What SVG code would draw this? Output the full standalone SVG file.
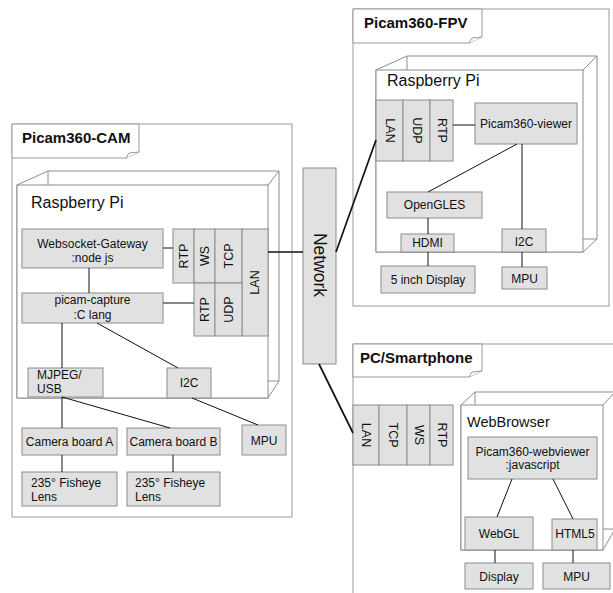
<svg xmlns="http://www.w3.org/2000/svg" width="613" height="593" viewBox="0 0 613 593">
<style>
.panel{fill:#fff;stroke:#9a9a9a;stroke-width:1}
.tab{fill:#fff;stroke:#9a9a9a;stroke-width:1}
.node3d{fill:#fff;stroke:#8c8c8c;stroke-width:1}
.box{fill:#e1e1e1;stroke:#8c8c8c;stroke-width:1}
.t{font-family:"Liberation Sans",Arial,sans-serif;font-size:12px;fill:#111}
.c{text-anchor:middle}
.v{text-anchor:middle;dominant-baseline:central;font-size:12.5px}
.title{font-family:"Liberation Sans",Arial,sans-serif;font-size:15px;font-weight:bold;fill:#111}
.big{font-family:"Liberation Sans",Arial,sans-serif;font-size:16px;fill:#111}
.conn line{stroke:#111;stroke-width:1;fill:none}
.conn line.net{stroke-width:1.7}
</style>
<rect width="613" height="593" fill="#fff"/>

<!-- Picam360-CAM -->
<g id="cam">
  <rect class="panel" x="12" y="124" width="280" height="393"/>
  <path class="tab" d="M12,124 H139 V152 L126,158 H12 Z"/>
  <path class="tab" d="M126,158 L129,153 L139,152" fill="none"/>
  <text class="title" x="22" y="143">Picam360-CAM</text>
</g>
<g id="cam-rpi">
  <path class="node3d" d="M17,185 L48,171 H279 V381 L268,398 H17 Z"/>
  <path fill="none" stroke="#8c8c8c" d="M48,171 V185 M268,185 L279,171 M268,381 H279"/>
  <rect class="node3d" x="17" y="185" width="251" height="213"/>
  <text class="big" x="31" y="208">Raspberry Pi</text>
</g>
<g id="cam-wsgw"><rect class="box" x="22" y="229" width="141" height="39"/>
  <text class="t c" x="92.5" y="248">Websocket-Gateway</text><text class="t c" x="92.5" y="262">:node js</text></g>
<g id="cam-rtp1"><rect class="box" x="173" y="229" width="21" height="54"/><text class="t v" transform="translate(184,256) rotate(-90)">RTP</text></g>
<g id="cam-ws"><rect class="box" x="194" y="229" width="21" height="54"/><text class="t v" transform="translate(205,256) rotate(-90)">WS</text></g>
<g id="cam-tcp"><rect class="box" x="215" y="229" width="27" height="54"/><text class="t v" transform="translate(229,256) rotate(-90)">TCP</text></g>
<g id="cam-lan"><rect class="box" x="242" y="229" width="26" height="107"/><text class="t v" transform="translate(255,282.5) rotate(-90)">LAN</text></g>
<g id="cam-rtp2"><rect class="box" x="194" y="283" width="21" height="53"/><text class="t v" transform="translate(205,309.5) rotate(-90)">RTP</text></g>
<g id="cam-udp"><rect class="box" x="215" y="283" width="27" height="53"/><text class="t v" transform="translate(229,309.5) rotate(-90)">UDP</text></g>
<g id="cam-capture"><rect class="box" x="22" y="293" width="141" height="30"/>
  <text class="t c" x="92.5" y="304">picam-capture</text><text class="t c" x="92.5" y="318.5">:C lang</text></g>
<g id="cam-mjpeg"><rect class="box" x="28" y="368" width="75" height="29"/>
  <text class="t" x="37" y="379">MJPEG/</text><text class="t" x="37" y="393">USB</text></g>
<g id="cam-i2c"><rect class="box" x="167" y="368" width="44" height="30"/><text class="t c" x="189" y="387">I2C</text></g>
<g id="cam-cama"><rect class="box" x="22" y="428" width="95" height="27"/><text class="t c" x="69.5" y="446">Camera board A</text></g>
<g id="cam-camb"><rect class="box" x="127" y="428" width="93" height="27"/><text class="t c" x="173.5" y="446">Camera board B</text></g>
<g id="cam-mpu"><rect class="box" x="242" y="425" width="44" height="30"/><text class="t c" x="264" y="445">MPU</text></g>
<g id="cam-lensa"><rect class="box" x="22" y="472" width="95" height="34"/>
  <text class="t" x="31" y="487">235° Fisheye</text><text class="t" x="31" y="501">Lens</text></g>
<g id="cam-lensb"><rect class="box" x="127" y="472" width="93" height="34"/>
  <text class="t" x="135" y="487">235° Fisheye</text><text class="t" x="135" y="501">Lens</text></g>

<!-- Network -->
<g id="network"><rect class="box" x="303" y="168" width="33" height="196"/>
  <text class="t v" style="font-size:17.5px" transform="translate(319.5,265) rotate(90)">Network</text></g>

<!-- Picam360-FPV -->
<g id="fpv">
  <rect class="panel" x="353" y="9" width="256" height="297"/>
  <path class="tab" d="M353,9 H482 V37 L469,43 H353 Z"/>
  <path class="tab" d="M469,43 L472,38 L482,37" fill="none"/>
  <text class="title" x="364" y="28">Picam360-FPV</text>
</g>
<g id="fpv-rpi">
  <path class="node3d" d="M376,70 L407,56 H597 V239 L583,252 H376 Z"/>
  <path fill="none" stroke="#8c8c8c" d="M407,56 V70 M583,70 L597,56 M583,239 H597"/>
  <rect class="node3d" x="376" y="70" width="207" height="182"/>
  <text class="big" x="387" y="86">Raspberry Pi</text>
</g>
<g id="fpv-lan"><rect class="box" x="376" y="100" width="27" height="61"/><text class="t v" transform="translate(389.5,130.5) rotate(90)">LAN</text></g>
<g id="fpv-udp"><rect class="box" x="403" y="100" width="27" height="61"/><text class="t v" transform="translate(416.5,130.5) rotate(90)">UDP</text></g>
<g id="fpv-rtp"><rect class="box" x="430" y="100" width="23" height="61"/><text class="t v" transform="translate(441.5,130.5) rotate(90)">RTP</text></g>
<g id="fpv-viewer"><rect class="box" x="475" y="103" width="102" height="41"/><text class="t c" x="526" y="128">Picam360-viewer</text></g>
<g id="fpv-opengles"><rect class="box" x="387" y="192" width="95" height="26"/><text class="t c" x="434.5" y="209">OpenGLES</text></g>
<g id="fpv-hdmi"><rect class="box" x="401" y="234" width="53" height="18"/><text class="t c" x="427.5" y="247">HDMI</text></g>
<g id="fpv-i2c"><rect class="box" x="502" y="229" width="44" height="23"/><text class="t c" x="524" y="246">I2C</text></g>
<g id="fpv-display"><rect class="box" x="381" y="266" width="94" height="27"/><text class="t c" x="428" y="284">5 inch Display</text></g>
<g id="fpv-mpu"><rect class="box" x="502" y="267" width="45" height="22"/><text class="t c" x="524.5" y="282.5">MPU</text></g>

<!-- PC/Smartphone -->
<g id="pc">
  <rect class="panel" x="353" y="344" width="270" height="260"/>
  <path class="tab" d="M353,344 H482 V371 L469,377 H353 Z"/>
  <path class="tab" d="M469,377 L472,372 L482,371" fill="none"/>
  <text class="title" x="360" y="363">PC/Smartphone</text>
</g>
<g id="pc-lan"><rect class="box" x="353" y="405" width="26" height="60"/><text class="t v" transform="translate(366,435) rotate(90)">LAN</text></g>
<g id="pc-tcp"><rect class="box" x="379" y="405" width="28" height="60"/><text class="t v" transform="translate(393,435) rotate(90)">TCP</text></g>
<g id="pc-ws"><rect class="box" x="407" y="405" width="23" height="60"/><text class="t v" transform="translate(418.5,435) rotate(90)">WS</text></g>
<g id="pc-rtp"><rect class="box" x="430" y="405" width="23" height="60"/><text class="t v" transform="translate(441.5,435) rotate(90)">RTP</text></g>
<g id="pc-browser">
  <path class="node3d" d="M461,405 L475,392 H615 V529 L603,550 H461 Z"/>
  <path fill="none" stroke="#8c8c8c" d="M475,392 V405 M603,405 L615,392 M603,529 H615"/>
  <rect class="node3d" x="461" y="405" width="142" height="145"/>
  <text class="big" style="font-size:14.5px" x="467" y="427">WebBrowser</text>
</g>
<g id="pc-webviewer"><rect class="box" x="468" y="437" width="129" height="42"/>
  <text class="t c" x="532.5" y="456">Picam360-webviewer</text><text class="t c" x="532.5" y="469">:javascript</text></g>
<g id="pc-webgl"><rect class="box" x="465" y="517" width="68" height="33"/><text class="t c" x="499" y="538">WebGL</text></g>
<g id="pc-html5"><rect class="box" x="552" y="519" width="45" height="31"/><text class="t c" x="575" y="538">HTML5</text></g>
<g id="pc-display"><rect class="box" x="465" y="563" width="68" height="26"/><text class="t c" x="499" y="581">Display</text></g>
<g id="pc-mpu"><rect class="box" x="543" y="563" width="67" height="26"/><text class="t c" x="576.5" y="581">MPU</text></g>

<g id="connectors" class="conn">
  <line x1="163" y1="248" x2="173" y2="248"/>
  <line x1="89" y1="268" x2="89" y2="293"/>
  <line x1="163" y1="303" x2="194" y2="303"/>
  <line x1="97" y1="323" x2="178" y2="368"/>
  <line x1="62" y1="323" x2="62" y2="368"/>
  <line x1="62" y1="397" x2="62" y2="428"/>
  <line x1="62" y1="397" x2="170" y2="428"/>
  <line x1="192" y1="398" x2="258" y2="425"/>
  <line x1="62" y1="455" x2="62" y2="472"/>
  <line x1="173" y1="455" x2="173" y2="472"/>
  <line class="net" x1="268" y1="252" x2="303" y2="252"/>
  <line class="net" x1="336" y1="252" x2="376" y2="140"/>
  <line x1="453" y1="125" x2="475" y2="125"/>
  <line x1="517" y1="144" x2="428" y2="192"/>
  <line x1="522" y1="144" x2="522" y2="229"/>
  <line x1="428" y1="218" x2="428" y2="234"/>
  <line x1="428" y1="252" x2="428" y2="266"/>
  <line x1="522" y1="252" x2="522" y2="267"/>
  <line class="net" x1="319" y1="364" x2="353" y2="433"/>
  <line x1="512" y1="479" x2="497" y2="517"/>
  <line x1="553" y1="479" x2="573" y2="519"/>
  <line x1="495" y1="550" x2="495" y2="563"/>
  <line x1="573" y1="550" x2="573" y2="563"/>
</g>
</svg>
